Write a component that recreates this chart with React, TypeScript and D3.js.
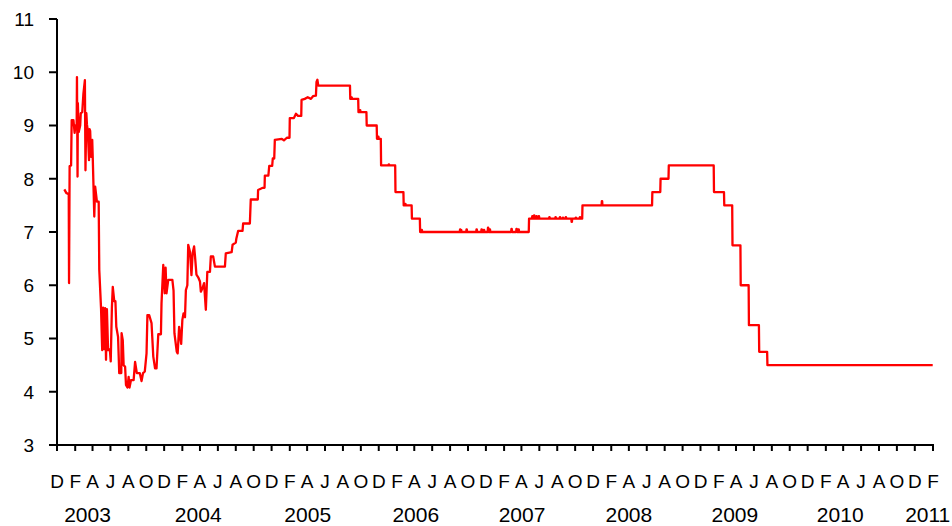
import React from "react";
import * as d3 from "d3";

// Overnight interbank rate (%)
const dailyRate: [string, number][] = [
  ["2002-12-26", 7.8], ["2003-01-02", 7.73], ["2003-01-07", 7.72], ["2003-01-10", 7.7],
  ["2003-01-11", 6.04], ["2003-01-13", 8.24], ["2003-01-18", 8.25], ["2003-01-20", 9.1],
  ["2003-01-26", 9.1], ["2003-01-30", 8.86], ["2003-02-02", 9.0], ["2003-02-06", 9.0],
  ["2003-02-07", 9.91], ["2003-02-09", 8.04], ["2003-02-10", 9.42], ["2003-02-13", 8.88],
  ["2003-02-18", 9.0], ["2003-02-20", 9.23], ["2003-02-25", 9.25], ["2003-03-01", 9.6],
  ["2003-03-06", 9.85], ["2003-03-08", 8.16], ["2003-03-11", 9.23], ["2003-03-13", 9.02],
  ["2003-03-16", 8.9], ["2003-03-20", 8.35], ["2003-03-22", 8.93], ["2003-03-24", 8.9],
  ["2003-03-27", 8.41], ["2003-03-31", 8.73], ["2003-04-02", 8.35], ["2003-04-07", 7.29],
  ["2003-04-10", 7.85], ["2003-04-16", 7.57], ["2003-04-22", 7.57], ["2003-04-24", 6.29],
  ["2003-04-30", 5.57], ["2003-05-04", 4.78], ["2003-05-07", 5.58], ["2003-05-11", 4.8],
  ["2003-05-14", 5.57], ["2003-05-17", 4.6], ["2003-05-20", 5.55], ["2003-05-24", 4.78],
  ["2003-05-30", 4.8], ["2003-06-02", 4.57], ["2003-06-06", 5.58], ["2003-06-09", 5.97],
  ["2003-06-14", 5.7], ["2003-06-18", 5.7], ["2003-06-21", 5.22], ["2003-06-27", 5.03],
  ["2003-07-01", 4.35], ["2003-07-08", 4.35], ["2003-07-09", 5.1], ["2003-07-13", 4.97],
  ["2003-07-16", 4.5], ["2003-07-21", 4.47], ["2003-07-24", 4.13], ["2003-07-29", 4.08],
  ["2003-08-02", 4.28], ["2003-08-05", 4.08], ["2003-08-10", 4.22], ["2003-08-19", 4.22],
  ["2003-08-24", 4.56], ["2003-08-30", 4.35], ["2003-09-09", 4.35], ["2003-09-15", 4.2],
  ["2003-09-20", 4.35], ["2003-09-26", 4.38], ["2003-10-02", 4.72], ["2003-10-05", 5.44],
  ["2003-10-11", 5.44], ["2003-10-19", 5.29], ["2003-10-25", 4.66], ["2003-10-31", 4.44],
  ["2003-11-05", 4.44], ["2003-11-11", 5.08], ["2003-11-20", 5.08], ["2003-11-22", 5.66],
  ["2003-11-28", 6.38], ["2003-12-03", 5.85], ["2003-12-06", 6.33], ["2003-12-09", 5.85],
  ["2003-12-15", 6.1], ["2003-12-29", 6.1], ["2004-01-02", 5.9], ["2004-01-05", 5.1],
  ["2004-01-13", 4.75], ["2004-01-16", 4.72], ["2004-01-21", 5.22], ["2004-01-28", 4.9],
  ["2004-02-01", 5.35], ["2004-02-05", 5.47], ["2004-02-10", 5.4], ["2004-02-13", 5.91],
  ["2004-02-18", 6.0], ["2004-02-21", 6.76], ["2004-02-27", 6.63], ["2004-03-03", 6.19],
  ["2004-03-07", 6.6], ["2004-03-12", 6.73], ["2004-03-15", 6.55], ["2004-03-20", 6.2],
  ["2004-03-26", 6.15], ["2004-04-01", 6.07], ["2004-04-04", 5.88], ["2004-04-10", 5.95],
  ["2004-04-15", 6.04], ["2004-04-21", 5.54], ["2004-04-26", 6.25], ["2004-05-05", 6.25],
  ["2004-05-08", 6.54], ["2004-05-16", 6.54], ["2004-05-22", 6.35], ["2004-06-25", 6.35],
  ["2004-06-28", 6.6], ["2004-07-18", 6.62], ["2004-07-21", 6.76], ["2004-08-01", 6.8],
  ["2004-08-03", 6.88], ["2004-08-09", 7.02], ["2004-08-24", 7.02], ["2004-08-26", 7.16],
  ["2004-09-18", 7.16], ["2004-09-21", 7.61], ["2004-10-15", 7.61], ["2004-10-16", 7.79],
  ["2004-11-01", 7.83], ["2004-11-07", 7.83], ["2004-11-08", 8.06], ["2004-11-20", 8.06],
  ["2004-11-23", 8.24], ["2004-12-03", 8.24], ["2004-12-05", 8.38], ["2004-12-10", 8.38],
  ["2004-12-12", 8.73], ["2005-01-05", 8.75], ["2005-01-12", 8.72], ["2005-01-22", 8.77],
  ["2005-01-31", 8.77], ["2005-02-01", 9.14], ["2005-02-15", 9.14], ["2005-02-22", 9.22],
  ["2005-03-01", 9.18], ["2005-03-12", 9.18], ["2005-03-13", 9.48], ["2005-03-24", 9.5],
  ["2005-04-03", 9.53], ["2005-04-14", 9.5], ["2005-04-21", 9.55], ["2005-05-01", 9.56],
  ["2005-05-03", 9.82], ["2005-05-06", 9.86],
];

// Target-style step changes: date of change, new level
const policySteps: [string, number][] = [
  ["2005-05-09", 9.75], ["2005-08-26", 9.5], ["2005-09-23", 9.25], ["2005-10-21", 9.0],
  ["2005-11-25", 8.75], ["2005-12-09", 8.25], ["2006-01-27", 7.75], ["2006-02-24", 7.5],
  ["2006-03-24", 7.25], ["2006-04-21", 7.0], ["2007-04-27", 7.25], ["2007-10-26", 7.5],
  ["2008-06-20", 7.75], ["2008-07-18", 8.0], ["2008-08-15", 8.25], ["2009-01-16", 7.75],
  ["2009-02-20", 7.5], ["2009-03-20", 6.75], ["2009-04-17", 6.0], ["2009-05-15", 5.25],
  ["2009-06-19", 4.75], ["2009-07-17", 4.5],
];
const seriesEnd = "2011-01-31";

// Short-lived deviations from the step level
const blips: [string, number][] = [
  ["2005-08-30", 9.53], ["2005-09-28", 9.29], ["2005-11-29", 8.79], ["2006-01-04", 8.27],
  ["2006-03-01", 7.53], ["2006-04-26", 7.04], ["2006-09-04", 7.05], ["2006-09-07", 7.04],
  ["2006-09-26", 7.05], ["2006-10-30", 7.05], ["2006-11-16", 7.05], ["2006-11-24", 7.04],
  ["2006-12-08", 7.08], ["2006-12-14", 7.05], ["2007-02-26", 7.06], ["2007-03-15", 7.06],
  ["2007-03-22", 7.05], ["2007-05-08", 7.3], ["2007-05-14", 7.31], ["2007-05-22", 7.3],
  ["2007-05-30", 7.3], ["2007-07-05", 7.28], ["2007-07-26", 7.28], ["2007-08-10", 7.28],
  ["2007-08-20", 7.27], ["2007-08-30", 7.28], ["2007-09-19", 7.19], ["2007-10-03", 7.27],
  ["2007-10-17", 7.28], ["2007-12-31", 7.58],
];

const monthLetters = ["J", "F", "M", "A", "M", "J", "J", "A", "S", "O", "N", "D"];
const yTicks = [3, 4, 5, 6, 7, 8, 9, 10, 11];
const yearLabels: [string, string][] = [
  ["2003", "2003-03-15"], ["2004", "2004-03-26"], ["2005", "2005-04-03"], ["2006", "2006-04-06"],
  ["2007", "2007-04-03"], ["2008", "2008-04-01"], ["2009", "2009-03-28"], ["2010", "2010-03-22"],
  ["2011", "2011-01-14"],
];
const axisStart = "2002-12-01";
const axisEnd = "2011-02-01";

const parse = d3.timeParse("%Y-%m-%d");

function buildSeries(): [Date, number][] {
  const pts: [Date, number][] = dailyRate.map(([d, v]) => [parse(d)!, v]);
  const steps = policySteps.map(([d, v]) => [parse(d)!, v] as [Date, number]);
  const levelAt = (t: Date) => {
    let lv = steps[0][1];
    for (const s of steps) if (s[0] <= t) lv = s[1];
    return lv;
  };
  const events: [Date, number][] = [...steps];
  for (const [d, v] of blips) {
    const t = parse(d)!;
    events.push([t, v]);
    events.push([d3.timeDay.offset(t, 2), levelAt(t)]);
  }
  events.sort((a, b) => +a[0] - +b[0]);
  const end = parse(seriesEnd)!;
  events.forEach((e, i) => {
    pts.push(e);
    const next = i + 1 < events.length ? d3.timeDay.offset(events[i + 1][0], -1) : end;
    pts.push([next, e[1]]);
  });
  return pts;
}

export default function App() {
  const W = 952, H = 526;
  const x = d3.scaleTime().domain([parse(axisStart)!, parse(axisEnd)!]).range([57, 933]);
  const y = d3.scaleLinear().domain([3, 11]).range([445, 19]);
  const series = buildSeries();
  const line = d3.line<[Date, number]>().x(d => x(d[0])).y(d => y(d[1]));
  const monthTicks = d3.timeMonth.range(parse(axisStart)!, d3.timeDay.offset(parse(axisEnd)!, 1)).filter((_, i) => i % 2 === 0);
  const font = "'Liberation Sans', Arial, sans-serif";
  return (
    <svg width={W} height={H} style={{ position: "absolute", left: 0, top: 0, background: "#fff" }} fontFamily={font}>
      <path d={line(series)!} fill="none" stroke="#ff0000" strokeWidth={2.3} strokeLinejoin="round" />
      <line x1={57} x2={57} y1={y(11)} y2={y(3)} stroke="#000" strokeWidth={2} />
      <line x1={56} x2={x(parse(axisEnd)!) + 1} y1={y(3)} y2={y(3)} stroke="#000" strokeWidth={2} />
      {yTicks.map(t => (
        <g key={t}>
          <line x1={49} x2={57} y1={y(t)} y2={y(t)} stroke="#000" strokeWidth={2} />
          <text x={34} y={y(t)} dy="0.36em" textAnchor="end" fontSize={19} fill="#000">{t}</text>
        </g>
      ))}
      {monthTicks.map((m, i) => (
        <g key={i}>
          <line x1={x(m)} x2={x(m)} y1={445} y2={451} stroke="#000" strokeWidth={2} />
          <text x={x(m)} y={488} textAnchor="middle" fontSize={19} fill="#000">{monthLetters[m.getMonth()]}</text>
        </g>
      ))}
      {yearLabels.map(([lab, d]) => (
        <text key={lab} x={x(parse(d)!)} y={522} textAnchor="middle" fontSize={21} fill="#000">{lab}</text>
      ))}
    </svg>
  );
}
